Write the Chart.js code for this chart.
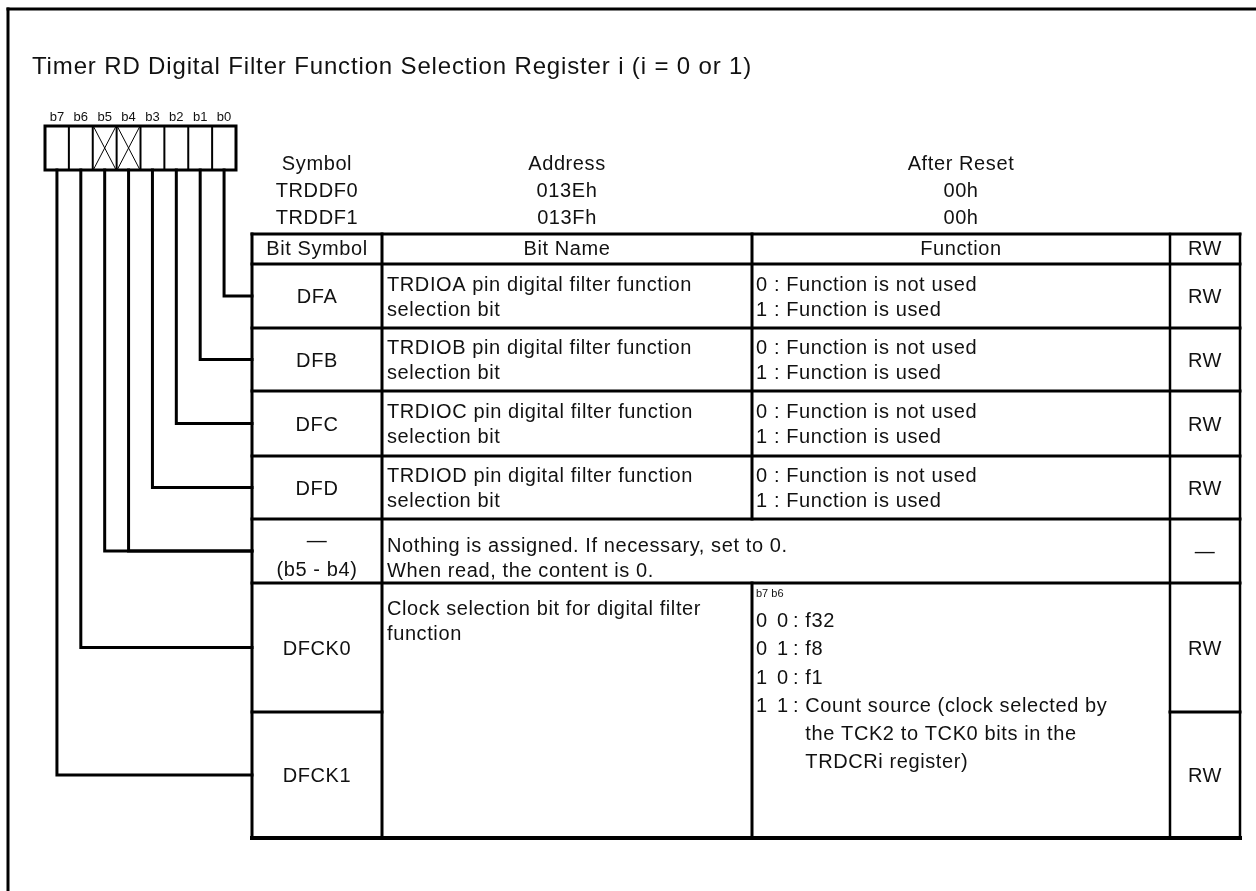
<!DOCTYPE html>
<html>
<head>
<meta charset="utf-8">
<script src="https://cdn.jsdelivr.net/npm/chart.js@4.4.1/dist/chart.umd.min.js"></script>
<style>
  html, body { margin: 0; padding: 0; background: #fff; }
  #register { display: block; }
</style>
</head>
<body>
<canvas id="register" width="1256" height="891"></canvas>
<script>
const titleText = 'Timer RD Digital Filter Function Selection Register i (i = 0 or 1)';
const bitLabels = ['b7', 'b6', 'b5', 'b4', 'b3', 'b2', 'b1', 'b0'];
const unusedBits = ['b5', 'b4'];
const infoHeaders = ['Symbol', 'Address', 'After Reset'];
const registerSymbols = ['TRDDF0', 'TRDDF1'];
const registerAddresses = ['013Eh', '013Fh'];
const resetValues = ['00h', '00h'];
const tableHeaders = ['Bit Symbol', 'Bit Name', 'Function', 'RW'];
const bitSymbols = [['DFA'], ['DFB'], ['DFC'], ['DFD'], ['—', '(b5 - b4)'], ['DFCK0'], ['DFCK1']];
const rowBits = [['b0'], ['b1'], ['b2'], ['b3'], ['b5', 'b4'], ['b6'], ['b7']];
const bitNames = [
    ['TRDIOA pin digital filter function', 'selection bit'],
    ['TRDIOB pin digital filter function', 'selection bit'],
    ['TRDIOC pin digital filter function', 'selection bit'],
    ['TRDIOD pin digital filter function', 'selection bit'],
    ['Nothing is assigned. If necessary, set to 0.', 'When read, the content is 0.'],
    ['Clock selection bit for digital filter', 'function'],
];
const pinFunctions = ['0 : Function is not used', '1 : Function is used'];
const clockHeader = 'b7 b6';
const clockBits = ['0 0', '0 1', '1 0', '1 1'];
const clockSources = [
    ['f32'],
    ['f8'],
    ['f1'],
    ['Count source (clock selected by', 'the TCK2 to TCK0 bits in the', 'TRDCRi register)'],
];
const accessModes = ['RW', 'RW', 'RW', 'RW', '—', 'RW', 'RW'];

// layout (page units, mapped through the chart scales)
const W = 1256, H = 891;
const FONT = '"Liberation Sans", Arial, Helvetica, sans-serif';
const frame = { x: 8, y: 9 };
const box = { left: 45, right: 236, top: 126, bottom: 170, labelY: 116 };
const cols = [252, 382, 752, 1170, 1240];
const rows = [234, 264, 328, 391, 456, 519, 583, 712, 838];
const infoY = [163, 190, 217];
const cellW = (box.right - box.left) / bitLabels.length;

const bitX = (label) => box.left + (bitLabels.indexOf(label) + 0.5) * cellW;
const rowMid = (r) => (rows[r + 1] + rows[r + 2]) / 2;

// one connector per bit: down from the bit cell, then across to the table
const connectors = [];
rowBits.forEach((bits, r) => {
    bits.forEach((b) => {
        connectors.push({
            data: [
                { x: bitX(b), y: box.bottom },
                { x: bitX(b), y: rowMid(r) },
                { x: cols[0], y: rowMid(r) },
            ],
            borderColor: '#000',
            borderWidth: 3,
            pointRadius: 0,
            tension: 0,
            fill: false,
            borderJoinStyle: 'miter',
            borderCapStyle: 'square',
        });
    });
});

const registerPlugin = {
    id: 'registerPlugin',
    beforeDraw(chart) {
        const ctx = chart.ctx;
        ctx.save();
        ctx.fillStyle = '#fff';
        ctx.fillRect(0, 0, chart.width, chart.height);
        ctx.restore();
    },
    afterDatasetsDraw(chart) {
        const ctx = chart.ctx;
        const sx = chart.scales.x, sy = chart.scales.y;
        const X = (v) => sx.getPixelForValue(v);
        const Y = (v) => sy.getPixelForValue(v);

        const line = (x1, y1, x2, y2, w) => {
            ctx.beginPath();
            ctx.lineWidth = w;
            ctx.lineCap = 'square';
            ctx.moveTo(X(x1), Y(y1));
            ctx.lineTo(X(x2), Y(y2));
            ctx.stroke();
        };
        const text = (s, x, y, size, align, ls) => {
            ctx.font = size + 'px ' + FONT;
            ctx.textAlign = align || 'left';
            ctx.textBaseline = 'alphabetic';
            ctx.letterSpacing = (ls === undefined ? 0.6 : ls) + 'px';
            ctx.fillText(s, X(x), Y(y) + size * 0.36);
        };

        ctx.save();
        ctx.strokeStyle = '#000';
        ctx.fillStyle = '#111';

        // outer frame (top and left edges visible)
        line(frame.x, frame.y, W + 5, frame.y, 3);
        line(frame.x, frame.y, frame.x, H + 5, 3);

        text(titleText, 32, 65.5, 24, 'left', 0.85);

        // bit boxes
        bitLabels.forEach((b, i) => {
            const cx = box.left + (i + 0.5) * cellW;
            text(b, cx, box.labelY, 13, 'center', 0);
            if (i > 0) line(box.left + i * cellW, box.top, box.left + i * cellW, box.bottom, 2);
            if (unusedBits.includes(b)) {
                const l = box.left + i * cellW, r = l + cellW;
                ctx.save();
                ctx.lineCap = 'butt';
                ctx.lineWidth = 1;
                ctx.beginPath();
                ctx.moveTo(X(l + 1), Y(box.top + 1));
                ctx.lineTo(X(r - 1), Y(box.bottom - 1));
                ctx.moveTo(X(r - 1), Y(box.top + 1));
                ctx.lineTo(X(l + 1), Y(box.bottom - 1));
                ctx.stroke();
                ctx.restore();
            }
        });
        ctx.lineWidth = 3;
        ctx.strokeRect(X(box.left), Y(box.top), X(box.right) - X(box.left), Y(box.bottom) - Y(box.top));

        // register info
        const infoX = [(cols[0] + cols[1]) / 2, (cols[1] + cols[2]) / 2, (cols[2] + cols[3]) / 2];
        const infoCols = [registerSymbols, registerAddresses, resetValues];
        infoHeaders.forEach((h, c) => {
            text(h, infoX[c], infoY[0], 20, 'center');
            infoCols[c].forEach((v, k) => text(v, infoX[c], infoY[k + 1], 20, 'center'));
        });

        // table grid
        const top = rows[0], bottom = rows[rows.length - 1];
        line(cols[0], top, cols[4], top, 3);
        line(cols[0], bottom, cols[4], bottom, 4);
        line(cols[0], top, cols[0], bottom, 3);
        line(cols[4], top, cols[4], bottom, 2.5);
        line(cols[1], top, cols[1], bottom, 3);
        line(cols[3], top, cols[3], bottom, 2.5);
        line(cols[2], top, cols[2], rows[5], 3);
        line(cols[2], rows[6], cols[2], bottom, 3);
        for (let k = 1; k <= 6; k++) line(cols[0], rows[k], cols[4], rows[k], 3);
        line(cols[0], rows[7], cols[1], rows[7], 3);
        line(cols[3], rows[7], cols[4], rows[7], 3);

        // headers
        tableHeaders.forEach((h, c) => text(h, (cols[c] + cols[c + 1]) / 2, (rows[0] + rows[1]) / 2 - 1, 20, 'center'));

        const symX = (cols[0] + cols[1]) / 2;
        const rwX = (cols[3] + cols[4]) / 2;
        const nameX = cols[1] + 5;
        const funcX = cols[2] + 4;

        bitSymbols.forEach((s, r) => {
            const m = rowMid(r);
            if (s.length === 1) text(s[0], symX, m, 20, 'center');
            else { text(s[0], symX, m - 11, 20, 'center'); text(s[1], symX, m + 18, 20, 'center'); }
            text(accessModes[r], rwX, m, 20, 'center');
        });

        // pin rows
        for (let r = 0; r < 4; r++) {
            const m = rowMid(r);
            text(bitNames[r][0], nameX, m - 12.5, 20);
            text(bitNames[r][1], nameX, m + 12.5, 20);
            text(pinFunctions[0], funcX, m - 12.5, 20);
            text(pinFunctions[1], funcX, m + 12.5, 20);
        }

        // reserved row
        text(bitNames[4][0], nameX, rowMid(4) - 6, 20);
        text(bitNames[4][1], nameX, rowMid(4) + 19, 20);

        // clock selection rows (merged name / function cells)
        const ct = rows[6];
        text(bitNames[5][0], nameX, ct + 25, 20);
        text(bitNames[5][1], nameX, ct + 50, 20);
        text(clockHeader, funcX, ct + 10, 11, 'left', 0);
        let y = ct + 37;
        const step = 28.2;
        clockBits.forEach((bits, k) => {
            const [hi, lo] = bits.split(' ');
            text(hi, funcX, y, 20);
            text(lo, funcX + 21, y, 20);
            ctx.font = '20px ' + FONT;
            ctx.letterSpacing = '0.6px';
            const indent = ctx.measureText(': ').width;
            clockSources[k].forEach((s, j) => {
                if (j === 0) text(': ' + s, funcX + 37, y, 20);
                else text(s, funcX + 37 + indent, y, 20);
                y += step;
            });
        });

        ctx.restore();
    },
};

new Chart(document.getElementById('register'), {
    type: 'line',
    data: { datasets: connectors },
    options: {
        responsive: false,
        animation: false,
        devicePixelRatio: 1,
        events: [],
        layout: { padding: 0 },
        plugins: {
            legend: { display: false },
            tooltip: { enabled: false },
        },
        scales: {
            x: { type: 'linear', min: 0, max: W, display: false },
            y: { type: 'linear', min: 0, max: H, reverse: true, display: false },
        },
    },
    plugins: [registerPlugin],
});
</script>
</body>
</html>
